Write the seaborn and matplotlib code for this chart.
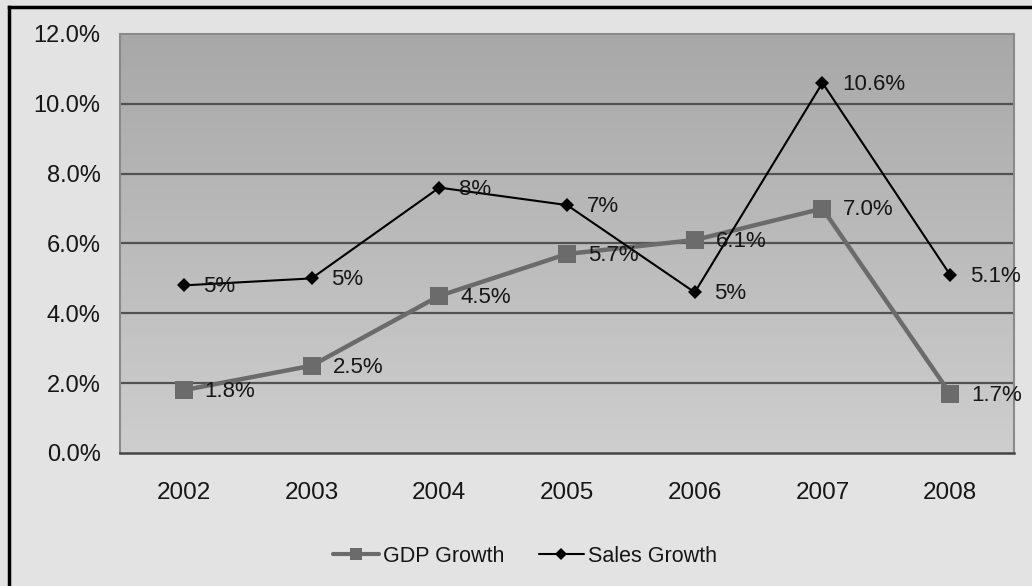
import numpy as np
import pandas as pd
import matplotlib
matplotlib.use("Agg")
import matplotlib.pyplot as plt
from matplotlib.lines import Line2D
from matplotlib.ticker import PercentFormatter
import seaborn as sns

years = ["2002", "2003", "2004", "2005", "2006", "2007", "2008"]
gdp_growth = [1.8, 2.5, 4.5, 5.7, 6.1, 7.0, 1.7]
sales_growth = [4.8, 5.0, 7.6, 7.1, 4.6, 10.6, 5.1]
gdp_decimals = [1, 1, 1, 1, 1, 1, 1]
sales_decimals = [0, 0, 0, 0, 0, 1, 1]
y_ticks = [0, 2, 4, 6, 8, 10, 12]

sns.set_theme(style="white")
plt.rcParams["font.family"] = ["Liberation Sans", "DejaVu Sans"]

df = pd.DataFrame({
    "Year": years * 2,
    "Growth": gdp_growth + sales_growth,
    "Series": ["GDP Growth"] * len(years) + ["Sales Growth"] * len(years),
})

TEXT = "#161616"
fig = plt.figure(figsize=(10.32, 5.86), dpi=100, facecolor="#e3e3e3")
ax = fig.add_axes([0.1163, 0.227, 0.8663, 0.715])

# vertical gray gradient behind the plot area
grad = np.linspace(0, 1, 256).reshape(-1, 1)
cmap = matplotlib.colors.LinearSegmentedColormap.from_list("bg", ["#cecece", "#a8a8a8"])
ax.imshow(grad, extent=[0, 1, 0, 1], transform=ax.transAxes, origin="lower",
          aspect="auto", cmap=cmap, zorder=0)

sns.lineplot(data=df, x="Year", y="Growth", hue="Series", style="Series",
             palette={"GDP Growth": "#6b6b6b", "Sales Growth": "#000000"},
             markers={"GDP Growth": "s", "Sales Growth": "D"},
             dashes=False, ax=ax, zorder=3, legend=False)

lines = ax.get_lines()
lines[0].set_linewidth(3.2)
lines[0].set_markersize(13)
lines[0].set_markeredgewidth(0)
lines[1].set_linewidth(1.5)
lines[1].set_markersize(7)
lines[1].set_markeredgewidth(0)

for i, (v, d) in enumerate(zip(gdp_growth, gdp_decimals)):
    ax.annotate(f"{v:.{d}f}%", (i, v), xytext=(15, -1), textcoords="offset points",
                ha="left", va="center", fontsize=16, color=TEXT, zorder=5)
for i, (v, d) in enumerate(zip(sales_growth, sales_decimals)):
    ax.annotate(f"{v:.{d}f}%", (i, v), xytext=(14, -1), textcoords="offset points",
                ha="left", va="center", fontsize=16, color=TEXT, zorder=5)

ax.set_xlim(-0.5, len(years) - 0.5)
ax.set_ylim(0, 12)
ax.set_yticks(y_ticks)
ax.yaxis.set_major_formatter(PercentFormatter(decimals=1))
ax.grid(False)
for t in y_ticks[1:-1]:
    ax.axhline(t, color="#525252", lw=1.6, zorder=1)
ax.set_xlabel("")
ax.set_ylabel("")
ax.tick_params(axis="y", length=0, pad=14, labelsize=17, labelcolor=TEXT)
ax.tick_params(axis="x", length=0, pad=21, labelsize=17.5, labelcolor=TEXT)
for side in ["left", "right", "top"]:
    ax.spines[side].set_color("#8a8a8a")
    ax.spines[side].set_linewidth(1.5)
ax.spines["bottom"].set_color("#444444")
ax.spines["bottom"].set_linewidth(1.8)

handles = [
    Line2D([], [], color="#6b6b6b", lw=3, marker="s", markersize=8, markeredgewidth=0),
    Line2D([], [], color="#000000", lw=1.5, marker="D", markersize=6, markeredgewidth=0),
]
fig.legend(handles, ["GDP Growth", "Sales Growth"], loc="center", bbox_to_anchor=(0.509, 0.051),
           ncol=2, frameon=False, fontsize=15.5, handlelength=2.1, handletextpad=0.2,
           columnspacing=1.6, labelcolor=TEXT)

# outer frame (top and left edges)
fig.add_artist(Line2D([0.0087, 0.0087], [0.0, 0.9885], transform=fig.transFigure,
                      color="#000000", lw=2.5, solid_capstyle="projecting"))
fig.add_artist(Line2D([0.0087, 1.0], [0.9885, 0.9885], transform=fig.transFigure,
                      color="#000000", lw=2.5, solid_capstyle="projecting"))

fig.savefig("out.png", dpi=100, facecolor=fig.get_facecolor())
